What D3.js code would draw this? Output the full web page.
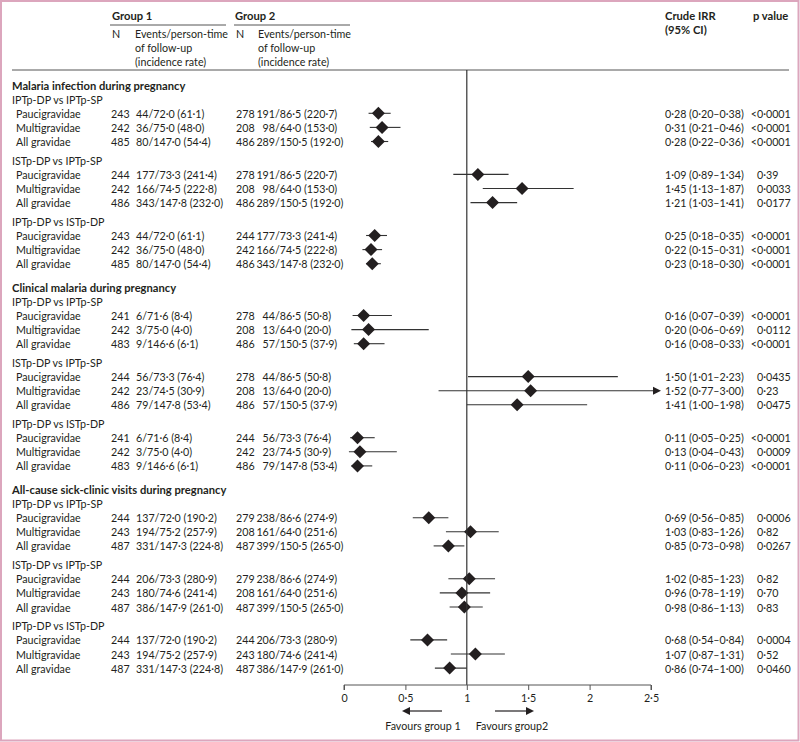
<!DOCTYPE html>
<html><head><meta charset="utf-8">
<script src="https://cdn.jsdelivr.net/npm/d3@7"></script>
<style>
body{margin:0;background:#fff}
text{font-family:Lato,'Open Sans',sans-serif;fill:#231f20;font-size:10.7px}
</style>
</head><body><svg id="c" width="800" height="742"></svg>
<script>
const outcomes = ["Malaria infection during pregnancy","Clinical malaria during pregnancy","All-cause sick-clinic visits during pregnancy"];
const comparisons = ["IPTp-DP vs IPTp-SP","ISTp-DP vs IPTp-SP","IPTp-DP vs ISTp-DP"];
const gravidity = ["Paucigravidae","Multigravidae","All gravidae"];
const n1 = [243,242,485, 244,242,486, 243,242,485, 241,242,483, 244,242,486, 241,242,483, 244,243,487, 244,243,487, 244,243,487];
const events1 = ["44/72·0 (61·1)","36/75·0 (48·0)","80/147·0 (54·4)","177/73·3 (241·4)","166/74·5 (222·8)","343/147·8 (232·0)","44/72·0 (61·1)","36/75·0 (48·0)","80/147·0 (54·4)",
"6/71·6 (8·4)","3/75·0 (4·0)","9/146·6 (6·1)","56/73·3 (76·4)","23/74·5 (30·9)","79/147·8 (53·4)","6/71·6 (8·4)","3/75·0 (4·0)","9/146·6 (6·1)",
"137/72·0 (190·2)","194/75·2 (257·9)","331/147·3 (224·8)","206/73·3 (280·9)","180/74·6 (241·4)","386/147·9 (261·0)","137/72·0 (190·2)","194/75·2 (257·9)","331/147·3 (224·8)"];
const n2 = [278,208,486, 278,208,486, 244,242,486, 278,208,486, 278,208,486, 244,242,486, 279,208,487, 279,208,487, 244,243,487];
const events2 = ["191/86·5 (220·7)","98/64·0 (153·0)","289/150·5 (192·0)","191/86·5 (220·7)","98/64·0 (153·0)","289/150·5 (192·0)","177/73·3 (241·4)","166/74·5 (222·8)","343/147·8 (232·0)",
"44/86·5 (50·8)","13/64·0 (20·0)","57/150·5 (37·9)","44/86·5 (50·8)","13/64·0 (20·0)","57/150·5 (37·9)","56/73·3 (76·4)","23/74·5 (30·9)","79/147·8 (53·4)",
"238/86·6 (274·9)","161/64·0 (251·6)","399/150·5 (265·0)","238/86·6 (274·9)","161/64·0 (251·6)","399/150·5 (265·0)","206/73·3 (280·9)","180/74·6 (241·4)","386/147·9 (261·0)"];
const irr =    [0.28,0.31,0.28, 1.09,1.45,1.21, 0.25,0.22,0.23, 0.16,0.20,0.16, 1.50,1.52,1.41, 0.11,0.13,0.11, 0.69,1.03,0.85, 1.02,0.96,0.98, 0.68,1.07,0.86];
const ciLow =  [0.20,0.21,0.22, 0.89,1.13,1.03, 0.18,0.15,0.18, 0.07,0.06,0.08, 1.01,0.77,1.00, 0.05,0.04,0.06, 0.56,0.83,0.73, 0.85,0.78,0.86, 0.54,0.87,0.74];
const ciHigh = [0.38,0.46,0.36, 1.34,1.87,1.41, 0.35,0.31,0.30, 0.39,0.69,0.33, 2.23,3.00,1.98, 0.25,0.43,0.23, 0.85,1.26,0.98, 1.23,1.19,1.13, 0.84,1.31,1.00];
const pValues = ["<0·0001","<0·0001","<0·0001","0·39","0·0033","0·0177","<0·0001","<0·0001","<0·0001",
"<0·0001","0·0112","<0·0001","0·0435","0·23","0·0475","<0·0001","0·0009","<0·0001",
"0·0006","0·82","0·0267","0·82","0·70","0·83","0·0004","0·52","0·0460"];
const axisTicks = [0,0.5,1,1.5,2,2.5];

const svg = d3.select("#c");
const dot = s => s.replace(/\./g,"·");
const f2 = v => dot(d3.format(".2f")(v));

svg.append("rect").attr("x",1).attr("y",1).attr("width",797.5).attr("height",739.5)
  .attr("fill","none").attr("stroke","#dca6bd").attr("stroke-width",2);

const x = d3.scaleLinear().domain([0,2.5]).range([344,651]);
const ink = "#231f20", lineC = "#555";

function txt(str, xx, yy, opts={}) {
  const t = svg.append("text").attr("x",xx).attr("y",yy).attr("dominant-baseline","central").text(str);
  if (opts.bold) t.attr("font-weight",700).style("font-size","11.2px");
  if (opts.anchor) t.attr("text-anchor",opts.anchor);
  return t;
}
function width(str){ const t = txt(str,0,-50); const w = t.node().getComputedTextLength(); t.remove(); return w; }

txt("Group 1",112,15,{bold:true});
txt("Group 2",235,15,{bold:true});
svg.append("line").attr("x1",110).attr("x2",226).attr("y1",25).attr("y2",25).attr("stroke",lineC);
svg.append("line").attr("x1",234).attr("x2",350).attr("y1",25).attr("y2",25).attr("stroke",lineC);
[[112,135],[236,258]].forEach(([nx,ex])=>{
  txt("N",nx,33);
  txt("Events/person-time",ex,33);
  txt("of follow-up",ex,47);
  txt("(incidence rate)",ex,61);
});
txt("Crude IRR",665,15,{bold:true});
txt("(95% CI)",665,29,{bold:true});
txt("p value",753,15,{bold:true});
svg.append("line").attr("x1",12).attr("x2",789).attr("y1",70).attr("y2",70).attr("stroke",lineC);

let y = 85;
const rowY = [];
outcomes.forEach((o,oi)=>{
  if (oi>0) y += 23.5;
  txt(o,12,y,{bold:true});
  y += 14.2;
  comparisons.forEach((c,ci)=>{
    if (ci>0) y += 18.8;
    txt(c,12,y);
    gravidity.forEach((g,gi)=>{
      y += 14.1;
      rowY.push(y);
      txt(g,16,y);
    });
  });
});

const gForest = svg.append("g");
rowY.forEach((yy,i)=>{
  txt(String(n1[i]),111,yy);
  txt(events1[i],136,yy);
  txt(String(n2[i]),236,yy);
  const num = events2[i].split("/")[0];
  txt(events2[i],275-width(num),yy);
  txt(`${f2(irr[i])} (${f2(ciLow[i])}–${f2(ciHigh[i])})`,665,yy);
  const p = pValues[i];
  txt(p, p.startsWith("<") ? 757-width("<") : 757, yy);
  const clipped = ciHigh[i] > 2.5;
  const xh = clipped ? x(2.5)+2 : x(ciHigh[i]);
  gForest.append("line").attr("x1",x(ciLow[i])).attr("x2",xh).attr("y1",yy).attr("y2",yy)
    .attr("stroke","#333").attr("stroke-width",1.1);
  if (clipped) {
    gForest.append("path").attr("d",`M${xh},${yy-4}L${xh+8},${yy}L${xh},${yy+4}Z`).attr("fill",ink);
  }
  const cx = x(irr[i]), s = 6.5;
  gForest.append("path").attr("d",`M${cx-s},${yy}L${cx},${yy-s}L${cx+s},${yy}L${cx},${yy+s}Z`).attr("fill",ink);
});

svg.append("line").attr("x1",x(1)).attr("x2",x(1)).attr("y1",70).attr("y2",685).attr("stroke","#333").attr("stroke-width",1.2);

const ax = svg.append("g").attr("transform","translate(0,685)")
  .call(d3.axisBottom(x).tickValues(axisTicks).tickSize(5).tickPadding(4).tickFormat(d=>dot(String(d))));
ax.select(".domain").attr("stroke","#555").attr("d",`M${x(0)},5V0H${x(2.5)}V5`);
ax.selectAll(".tick line").attr("stroke","#555");
ax.selectAll(".tick text").attr("font-size",10.7).attr("font-family","Lato,'Open Sans',sans-serif").attr("fill",ink);

const ay = 711;
svg.append("line").attr("x1",442).attr("x2",410).attr("y1",ay).attr("y2",ay).attr("stroke",ink).attr("stroke-width",1.2);
svg.append("path").attr("d",`M410,${ay-4}L402,${ay}L410,${ay+4}Z`).attr("fill",ink);
svg.append("line").attr("x1",495).attr("x2",526).attr("y1",ay).attr("y2",ay).attr("stroke",ink).attr("stroke-width",1.2);
svg.append("path").attr("d",`M526,${ay-4}L534,${ay}L526,${ay+4}Z`).attr("fill",ink);
txt("Favours group 1",423,725,{anchor:"middle"});
txt("Favours group2",512,725,{anchor:"middle"});
</script></body></html>
